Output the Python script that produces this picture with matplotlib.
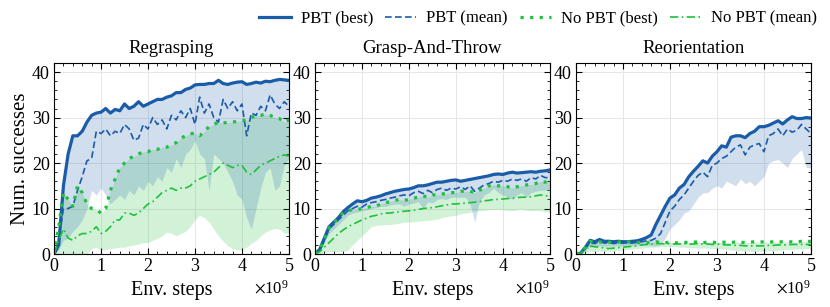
import matplotlib

matplotlib.use("Agg")

import matplotlib.pyplot as plt
import numpy as np
from matplotlib.ticker import MultipleLocator, ScalarFormatter

plt.rcParams["font.family"] = ["Liberation Serif", "DejaVu Serif"]
plt.rcParams["mathtext.fontset"] = "stix"

# Env. steps in units of 1e9
steps = [0.0, 0.1, 0.2, 0.3, 0.4, 0.5, 0.6, 0.7, 0.8, 0.9,
         1.0, 1.1, 1.2, 1.3, 1.4, 1.5, 1.6, 1.7, 1.8, 1.9,
         2.0, 2.1, 2.2, 2.3, 2.4, 2.5, 2.6, 2.7, 2.8, 2.9,
         3.0, 3.1, 3.2, 3.3, 3.4, 3.5, 3.6, 3.7, 3.8, 3.9,
         4.0, 4.1, 4.2, 4.3, 4.4, 4.5, 4.6, 4.7, 4.8, 4.9, 5.0]

tasks = ["Regrasping", "Grasp-And-Throw", "Reorientation"]

# Regrasping
pbt_best_r = [0, 2, 15, 22, 26, 26, 27, 29, 30.5, 31,
              31.2, 32, 31, 31.8, 31.5, 33, 32, 32.5, 33.5, 32.5,
              33, 33.5, 34, 34, 34.5, 34.8, 35.5, 35.5, 36.2, 36.5,
              37.2, 37.3, 37.3, 37.5, 37.5, 38.2, 37.5, 37.3, 37.6, 37.8,
              37.9, 37.3, 37.5, 37.8, 37.6, 38, 37.9, 38.2, 38.4, 38.3, 38.2]
pbt_mean_r = [0, 3, 10, 10, 10.5, 14, 17, 20.5, 21, 27,
              26.5, 27.5, 26, 27, 26.5, 28.5, 27.5, 25, 25.5, 28.5,
              27.5, 30, 28.5, 29.5, 27.5, 30.5, 29.5, 31.5, 30, 32,
              28.5, 34.5, 31, 33, 30, 29, 34, 32, 33.5, 31.5,
              33, 26, 31, 30.5, 32.5, 31.5, 35, 33, 32, 33.5, 32.5]
pbt_low_r = [0, 1, 3, 3.5, 5, 6, 7.5, 10, 14, 13,
             14.5, 13, 11, 12, 13, 12, 14, 13, 15, 14,
             16, 15, 17, 16, 19, 18, 21, 19, 22, 23,
             25, 22, 21, 14, 22, 21, 20, 18, 16, 13,
             12, 8, 5.5, 10, 14.5, 18, 19, 14, 15, 19.5, 21]
nopbt_best_r = [0, 6, 13.5, 12, 10.5, 15, 13.5, 11, 10, 9.8,
                9, 10, 14, 16.5, 19, 20, 21, 21.5, 22, 22.5,
                22.5, 23, 23, 23.5, 23.5, 24, 24.5, 25.5, 26, 26.5,
                26.5, 26, 27, 28, 28.5, 29, 28.8, 29, 29, 29.2,
                29.3, 29.5, 30, 30.5, 30.5, 30.8, 30.5, 30, 29.8, 29, 29.5]
nopbt_mean_r = [0, 3, 5.5, 3.5, 3, 4, 4.5, 4.5, 5, 6,
                4.5, 5, 6, 7.5, 7.5, 9, 9, 8.5, 9, 10,
                11, 11.5, 12.5, 13.5, 14, 14.5, 14, 14.5, 14.5, 15,
                16, 16.5, 17, 17.5, 18, 19, 20, 19.5, 19, 19.5,
                19.5, 18, 17.5, 18.5, 19.5, 20, 20.5, 21, 21.5, 21.8, 21.5]
nopbt_low_r = [0, 0, 0, 0, 0, 0, 0, 0, 1.2, 1.5,
               0.8, 1, 1.2, 1.3, 1.5, 1.5, 1.8, 2, 2.2, 2.5,
               2.5, 3, 3.5, 4, 4.8, 4.5, 4, 4.5, 5, 6,
               7.5, 8.5, 8, 7, 5.5, 4, 2.8, 1.8, 1.2, 1,
               1, 1.5, 2.4, 3, 4, 4.8, 5.3, 5.6, 5.5, 4.6, 4.5]

# Grasp-And-Throw
pbt_best_g = [0, 1, 3.5, 6, 7, 8, 9.3, 10.2, 11, 11.7,
              11.5, 11.8, 12.3, 12.5, 12.8, 13.2, 13.5, 13.8, 14, 14.2,
              14.3, 14.6, 15, 15, 15.2, 15.5, 15.8, 15.8, 16, 16.2,
              16.3, 16, 16.2, 16.4, 16.6, 16.8, 17, 17.2, 17.5, 17.6,
              17.5, 17.8, 18, 17.8, 17.9, 18, 18.1, 18, 18.2, 18.3, 18.5]
pbt_mean_g = [0, 0.8, 3, 5.5, 6.5, 7.5, 8.5, 9.5, 10, 10.5,
              10.3, 11, 11.3, 11.5, 11.8, 12, 12.3, 12.5, 12.8, 13,
              12.8, 13.5, 13.8, 13.3, 14, 13.5, 14.2, 14.5, 14, 14.5,
              14.3, 14.8, 14.2, 15, 13.8, 14.5, 15.2, 15.5, 16, 15.8,
              16.2, 16, 16.5, 16.2, 16.5, 16, 16.8, 16.5, 17.3, 16.8, 16.8]
pbt_low_g = [0, 0.5, 2.5, 4.5, 5.5, 6.5, 7.5, 8.5, 9, 9.2,
             9.5, 9.7, 10, 10.2, 10.5, 10.5, 10.8, 11, 11, 10.5,
             11, 11.2, 11.5, 10, 11.5, 11.2, 12, 12.2, 12, 12.5,
             12.5, 12.5, 12.5, 11, 7, 11.5, 13, 13.5, 14.5, 13.5,
             13, 12.5, 12, 13, 13.5, 12.5, 13.5, 13.8, 14, 14, 14]
nopbt_best_g = [0, 0.8, 3.5, 5.8, 6.8, 8, 9.2, 9.5, 9.8, 9.8,
                10, 10.2, 10.5, 10.5, 11, 11.3, 11.5, 11.8, 12, 11.8,
                12, 12.3, 12.5, 12.8, 12.5, 13, 13, 13.2, 13.3, 13.5,
                13.5, 13.8, 13.8, 13.8, 13.5, 14, 14.5, 15, 15.2, 15,
                15, 14.8, 14.5, 14.8, 15, 15.2, 15.3, 15.5, 16, 15.8, 16]
nopbt_mean_g = [0, 0.5, 1.5, 2.5, 3.5, 4.5, 5.3, 6, 6.5, 7,
                7.5, 7.9, 8.3, 8.5, 8.8, 9, 9, 9.2, 9.3, 9.4,
                9.5, 9.6, 9.8, 10, 10.1, 10.2, 10.4, 10.6, 10.8, 11,
                11, 11.1, 11.2, 11.3, 11.4, 11.5, 11.7, 11.8, 12, 12,
                12.1, 12.2, 12.3, 12.4, 12.5, 12.5, 12.6, 12.8, 13, 12.8, 12.8]
nopbt_low_g = [0, 0, 0.3, 0.5, 0.5, 0.5, 0.5, 0.8, 2, 3,
               4, 5, 6, 6.3, 6.4, 6.5, 6.5, 6.6, 6.8, 7,
               7, 7.1, 7.2, 7.3, 7.4, 7.5, 7.7, 8, 8.2, 8.4,
               8.5, 8.8, 9, 9.2, 9.5, 9.5, 9.6, 9.8, 9.8, 9.8,
               9.7, 9.6, 9.5, 9.7, 9.8, 9.6, 9.5, 9.6, 9.5, 9.3, 9.2]

# Reorientation
pbt_best_o = [0, 0.2, 1.5, 3, 2.7, 3.2, 2.8, 2.8, 2.7, 2.8,
              2.7, 2.7, 2.8, 2.9, 3.2, 3.6, 4.2, 6.5, 8.5, 10.5,
              12.3, 13, 14.5, 15.3, 17, 18.2, 19.3, 20.5, 20, 21.5,
              22.5, 23.8, 23.5, 25.7, 26, 26, 25.6, 26.5, 27, 28,
              28, 28.3, 28.8, 29.3, 28.6, 29.5, 30.2, 29.8, 29.8, 30, 29.9]
pbt_mean_o = [0, 0.2, 1.2, 2.5, 2.3, 2.8, 2.4, 2.5, 2.3, 2.5,
              2.4, 2.5, 2.4, 2.6, 2.7, 2.9, 3, 3.5, 4.5, 7,
              9.5, 10.5, 12, 13, 14.5, 16, 17.3, 18, 17, 19.5,
              20, 21, 21.5, 22.5, 23.5, 24, 21.8, 23.5, 24, 24.3,
              22.5, 26, 26.5, 27.5, 26, 27.5, 26.8, 27.2, 28.5, 27.5, 26.5]
pbt_low_o = [0, 0.1, 0.8, 1.5, 1.5, 1.8, 1.7, 1.8, 1.8, 1.8,
             1.8, 1.8, 1.9, 2, 2, 2, 1.8, 1.8, 2, 3.5,
             5.5, 6.5, 7.5, 9, 9.5, 11, 12.5, 13.5, 13.5, 14.5,
             15, 14.5, 16, 15.5, 15, 16.5, 15.5, 16, 15, 16,
             17, 20, 20.5, 20.8, 20, 19, 21, 22, 23, 19, 19]
nopbt_best_o = [0, 0.2, 1.5, 2.8, 2.6, 2.7, 2.4, 2.6, 2.5, 2.6,
                2.8, 2.7, 2.6, 2.5, 2.6, 2.5, 2.6, 2.7, 2.5, 2.5,
                2.6, 2.5, 2.4, 2.6, 2.5, 2.6, 2.7, 2.5, 2.6, 2.6,
                2.5, 2.6, 2.6, 2.5, 2.7, 2.6, 2.5, 2.6, 2.7, 2.6,
                2.7, 2.6, 2.7, 2.6, 2.7, 2.6, 2.7, 2.6, 2.8, 2.7, 2.8]
nopbt_mean_o = [0, 0.2, 1.2, 1.8, 1.6, 1.5, 1.3, 1.2, 1.3, 1.4,
                1.5, 1.6, 1.7, 1.8, 2, 2.1, 2.2, 2.3, 2.3, 2.2,
                2.3, 2.2, 2.2, 2.3, 2.2, 2.2, 2.3, 2.2, 2.2, 2.1,
                2.2, 2.1, 2, 2, 1.9, 1.9, 1.8, 1.8, 1.8, 1.8,
                1.8, 1.9, 1.9, 2, 2, 2, 2.1, 2.1, 2.1, 2.1, 2.1]
nopbt_low_o = [0, 0, 0.3, 0.6, 0.6, 0.6, 0.6, 0.6, 0.7, 0.8,
               0.9, 1, 1.1, 1.2, 1.3, 1.4, 1.5, 1.5, 1.6, 1.6,
               1.6, 1.6, 1.5, 1.5, 1.4, 1.4, 1.3, 1.3, 1.3, 1.2,
               1.2, 1.1, 1, 0.9, 0.8, 0.7, 0.7, 0.6, 0.6, 0.6,
               0.6, 0.7, 0.7, 0.8, 0.9, 1, 1, 1.1, 1.1, 1.2, 1.2]

panels = [
    (pbt_best_r, pbt_mean_r, pbt_low_r, nopbt_best_r, nopbt_mean_r, nopbt_low_r),
    (pbt_best_g, pbt_mean_g, pbt_low_g, nopbt_best_g, nopbt_mean_g, nopbt_low_g),
    (pbt_best_o, pbt_mean_o, pbt_low_o, nopbt_best_o, nopbt_mean_o, nopbt_low_o),
]

blue = "#1a5ca8"
green = "#1fc03c"

fig = plt.figure(figsize=(8.3, 3.07), dpi=100)
lefts = [0.0651, 0.3795, 0.694]
x = np.array(steps) * 1e9

for i, (left, task, data) in enumerate(zip(lefts, tasks, panels)):
    ax = fig.add_axes([left, 0.1726, 0.283, 0.622])
    pb, pm, pl, nb, nm, nl = data
    ax.fill_between(x, nl, nb, color=green, alpha=0.2, linewidth=0)
    ax.fill_between(x, pl, pb, color=blue, alpha=0.2, linewidth=0)
    ax.plot(x, pb, color=blue, lw=2.3, label="PBT (best)")
    ax.plot(x, pm, color=blue, lw=1.2, ls=(0, (4, 2)), label="PBT (mean)")
    ax.plot(x, nb, color=green, lw=2.3, ls=(0, (1, 2)), label="No PBT (best)")
    ax.plot(x, nm, color=green, lw=1.2, ls=(0, (5, 2, 1, 2)), label="No PBT (mean)")

    ax.set_xlim(0, 5e9)
    ax.set_ylim(0, 42)
    ax.xaxis.set_major_locator(MultipleLocator(1e9))
    ax.xaxis.set_minor_locator(MultipleLocator(0.2e9))
    ax.yaxis.set_major_locator(MultipleLocator(10))
    ax.yaxis.set_minor_locator(MultipleLocator(2))
    fmt = ScalarFormatter(useMathText=True)
    fmt.set_powerlimits((0, 0))
    ax.xaxis.set_major_formatter(fmt)
    ax.xaxis.get_offset_text().set_fontsize(12)
    ax.tick_params(which="both", direction="in", top=True, right=True, labelsize=13, pad=3)
    ax.tick_params(which="major", length=4, width=0.8)
    ax.tick_params(which="minor", length=2, width=0.6)
    ax.grid(True, which="major", color="#e6e6e6", lw=0.7)
    ax.set_axisbelow(True)
    ax.set_title(task, fontsize=13.5, pad=7)
    ax.set_xlabel("Env. steps", fontsize=14.5, labelpad=4)
    if i == 0:
        ax.set_ylabel("Num. successes", fontsize=15, labelpad=1)
        handles, labels = ax.get_legend_handles_labels()

fig.legend(handles, labels, loc="upper right", bbox_to_anchor=(1.003, 1.015), ncol=4,
           frameon=False, fontsize=12, handlelength=1.9, handletextpad=0.6,
           columnspacing=0.7)

fig.savefig("out.png", dpi=100)
